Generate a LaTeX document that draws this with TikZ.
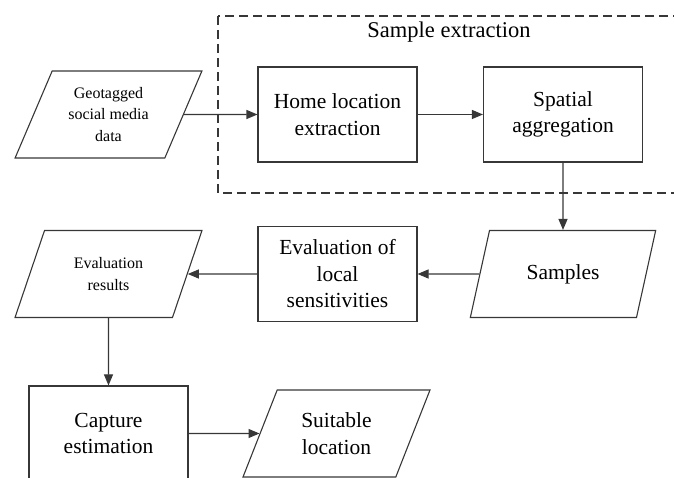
\documentclass[tikz,border=0pt]{standalone}
\usepackage{fontspec}
\setmainfont{Liberation Serif}
\usetikzlibrary{shapes.geometric,arrows.meta}
\pgfdeclarelayer{bg}
\pgfsetlayers{bg,main}
\definecolor{linegray}{RGB}{55,55,55}
\tikzset{
    procbox/.style={rectangle, draw=linegray, line width=1.1pt, minimum width=159pt, minimum height=95pt, align=center, inner sep=2pt, font=\fontsize{21.5}{26.5}\selectfont},
    databox/.style={trapezium, trapezium stretches=true, trapezium left angle=64, trapezium right angle=116, draw=linegray, line width=1.1pt, minimum width=187pt, minimum height=87pt, inner sep=0pt, align=center, font=\fontsize{21.5}{26.5}\selectfont},
    datasmall/.style={databox, font=\fontsize{16}{21.5}\selectfont},
    flow/.style={draw=linegray, line width=1.1pt, -{Triangle[length=11pt, width=9pt]}},
    groupbox/.style={draw=linegray, line width=1.1pt, dash pattern=on 9pt off 5pt}
}

\begin{document}
\begin{tikzpicture}
    \clip (0pt, 0pt) rectangle (674pt, 478pt);

    \node (geo) at (108.5pt, 363.5pt) [datasmall] {Geotagged\\social media\\data};
    \node (home) at (337.5pt, 363.5pt) [procbox] {Home location\\extraction};
    \node (spatial) at (563pt, 363.5pt) [procbox] {Spatial\\aggregation};
    \node (title) at (449pt, 446pt) [font=\fontsize{22.5}{27}\selectfont] {Sample extraction};

    \node (samples) at (563pt, 204pt) [databox] {Samples};
    \node (evallocal) at (337.5pt, 204pt) [procbox] {Evaluation of\\local\\sensitivities};
    \node (evalres) at (108.5pt, 204pt) [datasmall] {Evaluation\\results};

    \node (capture) at (108.5pt, 44.5pt) [procbox] {Capture\\estimation};
    \node (suitable) at (336.5pt, 44.5pt) [databox] {Suitable\\location};

    \begin{pgfonlayer}{bg}
        \draw[groupbox] (218pt, 462pt) rectangle (700pt, 285pt);
    \end{pgfonlayer}

    \draw (geo) edge[flow] (home);
    \draw (home) edge[flow] (spatial);
    \draw (spatial) edge[flow] (samples);
    \draw (samples) edge[flow] (evallocal);
    \draw (evallocal) edge[flow] (evalres);
    \draw (evalres) edge[flow] (capture);
    \draw (capture) edge[flow] (suitable);
\end{tikzpicture}
\end{document}
